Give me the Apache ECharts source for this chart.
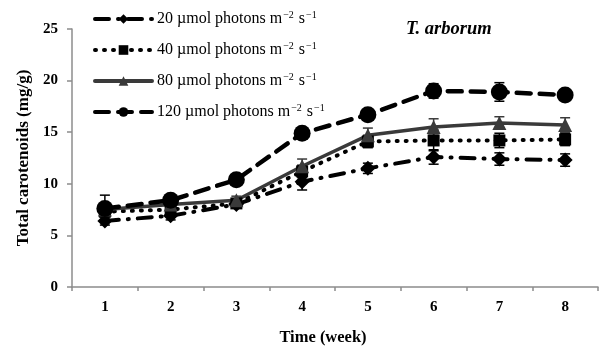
<!DOCTYPE html>
<html><head><meta charset="utf-8">
<script src="https://cdn.jsdelivr.net/npm/echarts@6/dist/echarts.min.js"></script>
<style>html,body{margin:0;padding:0;background:#fff}#c{width:610px;height:352px}</style>
</head><body><div id="c"></div>
<script>
const weeks = ['1','2','3','4','5','6','7','8'];
const names = ['20', '40', '80', '120'];
const s20 = [6.4, 6.9, 8.0, 10.2, 11.5, 12.6, 12.4, 12.3];
const s40 = [7.3, 7.5, 8.1, 11.2, 14.1, 14.2, 14.2, 14.3];
const s80 = [7.5, 8.0, 8.4, 11.7, 14.7, 15.5, 15.9, 15.7];
const s120 = [7.6, 8.4, 10.4, 14.9, 16.7, 19.0, 18.9, 18.6];
const e20 = [0.4, 0.4, 0.3, 0.8, 0.5, 0.7, 0.6, 0.6];
const e40 = [0.5, 0.4, 0.3, 0.6, 0.6, 1.0, 0.7, 0.6];
const e80 = [0.4, 0.4, 0.4, 0.7, 0.7, 0.8, 0.6, 0.7];
const e120 = [1.3, 0.3, 0.4, 0.4, 0.5, 0.7, 0.9, 0.5];
const yTicks = [0, 5, 10, 15, 20, 25];

const FONT = '"Liberation Serif", "Times New Roman", serif';
const chart = echarts.init(document.getElementById('c'));

function errSeries(vals, errs, color) {
  return {
    type: 'custom', silent: true, z: 3,
    data: vals.map((v, i) => [i, v, errs[i]]),
    renderItem: function (params, api) {
      const x = api.value(0), y = api.value(1), e = api.value(2);
      const hi = api.coord([x, y + e]), lo = api.coord([x, y - e]);
      const w = 5;
      return {
        type: 'group', children: [
          {type: 'line', shape: {x1: hi[0], y1: hi[1], x2: lo[0], y2: lo[1]}, style: {stroke: color, lineWidth: 1.5}},
          {type: 'line', shape: {x1: hi[0]-w, y1: hi[1], x2: hi[0]+w, y2: hi[1]}, style: {stroke: color, lineWidth: 1.5}},
          {type: 'line', shape: {x1: lo[0]-w, y1: lo[1], x2: lo[0]+w, y2: lo[1]}, style: {stroke: color, lineWidth: 1.5}}
        ]
      };
    }
  };
}

function lineSeries(name, data, color, type, width, symbol, size) {
  return {
    name: name + ' µmol', type: 'line', data: data, z: 4,
    symbol: symbol, symbolSize: size,
    lineStyle: {color: color, width: width, type: type, cap: 'round'},
    itemStyle: {color: color},
    emphasis: {disabled: true}
  };
}

const option = {
  animation: false,
  backgroundColor: '#fff',
  title: {
    text: 'T. arborum', left: 401, top: 15,
    textStyle: {fontFamily: FONT, fontStyle: 'italic', fontWeight: 'bold', fontSize: 18.5, color: '#000'}
  },
  legend: {
    orient: 'vertical', left: 88, top: 5, itemGap: 13,
    itemWidth: 57, itemHeight: 12,
    data: names.map(n => n + ' µmol'),
    lineStyle: {width: 4},
    formatter: function (n) {
      return n.replace(' µmol', '') + ' µmol photons m{sup|−2} s{sup|−1}';
    },
    textStyle: {
      fontFamily: FONT, fontSize: 16, color: '#000', lineHeight: 18,
      rich: {sup: {fontFamily: FONT, fontSize: 10, verticalAlign: 'top', color: '#000', padding: [0, 1, 0, 1]}}
    }
  },
  grid: {left: 72, right: 12, top: 29, bottom: 65},
  xAxis: {
    type: 'category', data: weeks, boundaryGap: true,
    name: 'Time (week)', nameLocation: 'middle', nameGap: 42,
    nameTextStyle: {fontFamily: FONT, fontWeight: 'bold', fontSize: 16.5, color: '#000', padding: [0, 24, 0, 0]},
    axisLine: {lineStyle: {color: '#8c8c8c', width: 1.5}},
    axisTick: {show: true, length: 4, lineStyle: {color: '#8c8c8c', width: 1.5}},
    axisLabel: {fontFamily: FONT, fontWeight: 'bold', fontSize: 15, color: '#000', margin: 13}
  },
  yAxis: {
    type: 'value', min: yTicks[0], max: yTicks[yTicks.length - 1], interval: 5,
    name: 'Total carotenoids (mg/g)', nameLocation: 'middle', nameGap: 40,
    nameTextStyle: {fontFamily: FONT, fontWeight: 'bold', fontSize: 17, color: '#000'},
    axisLine: {show: true, lineStyle: {color: '#8c8c8c', width: 1.5}},
    axisTick: {show: true, length: 5, lineStyle: {color: '#8c8c8c', width: 1.5}},
    splitLine: {show: false},
    axisLabel: {fontFamily: FONT, fontWeight: 'bold', fontSize: 15, color: '#000', margin: 14}
  },
  series: [
    errSeries(s20, e20, '#000'),
    errSeries(s40, e40, '#000'),
    errSeries(s80, e80, '#3a3a3a'),
    errSeries(s120, e120, '#000'),
    lineSeries('20', s20, '#000', [14, 9, 1, 9], 4, 'diamond', 15),
    lineSeries('40', s40, '#000', [1, 8], 4, 'rect', 12),
    lineSeries('80', s80, '#3a3a3a', 'solid', 3.5, 'triangle', 14),
    lineSeries('120', s120, '#000', [14, 9], 4.5, 'circle', 17)
  ]
};
chart.setOption(option);
</script>
</body></html>
